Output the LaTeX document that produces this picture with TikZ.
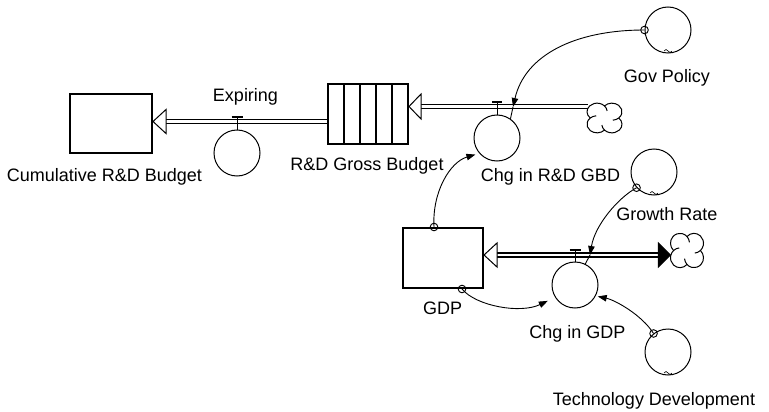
\documentclass[tikz,border=0pt]{standalone}
\usepackage{fontspec}
\setmainfont{Liberation Sans}
\usetikzlibrary{arrows.meta,calc}

\tikzset{
  stock/.style={draw, line width=2pt, rectangle, minimum width=80pt, minimum height=60pt, inner sep=0pt},
  conv/.style={draw, line width=1pt, circle, minimum size=46pt, inner sep=0pt},
  lbl/.style={anchor=base, inner sep=0pt, font=\fontsize{18}{20}\selectfont},
  pipe/.style={line width=1.5pt, double=white, double distance=2.5pt},
  openhead/.style={draw, line width=1pt, fill=white, line join=miter},
  solidhead/.style={draw, line width=1pt, fill=black, line join=miter},
  valvestem/.style={line width=1pt},
  valvebar/.style={line width=2pt},
  link/.style={line width=0.9pt, -{Triangle[length=9pt,width=6.5pt]}},
  plainlink/.style={line width=0.9pt},
  tail/.style={line width=0.9pt},
  graphmark/.style={line width=0.6pt},
  cloudline/.style={line width=1pt}
}

% four-lobed cloud drawn around a named anchor node (#2, #3: horizontal and vertical scale)
\newcommand{\cloudsym}[3]{%
  \begin{scope}[shift={(#1.center)}, x=#2pt, y=#3pt]
    \draw[cloudline, fill=white] (13.42,0)
      arc[start angle=-47.5, end angle=137.5, radius=9.5]
      arc[start angle=42.5, end angle=227.5, radius=9.5]
      arc[start angle=132.5, end angle=317.5, radius=9.5]
      arc[start angle=222.5, end angle=407.5, radius=9.5] -- cycle;
    \draw[cloudline] (0,13.42) arc[start angle=137.5, end angle=175, radius=9.5];
    \draw[cloudline] (-13.42,0) arc[start angle=227.5, end angle=265, radius=9.5];
    \draw[cloudline] (0,-13.42) arc[start angle=317.5, end angle=355, radius=9.5];
    \draw[cloudline] (13.42,0) arc[start angle=47.5, end angle=85, radius=9.5];
  \end{scope}}

% small tilde marking a graphical converter
\newcommand{\gmark}[1]{%
  \draw[graphmark] ([shift={(-4pt,2.5pt)}]#1.south) sin +(2pt,1.5pt) cos +(2pt,-1.5pt) sin +(2pt,-1.5pt) cos +(2pt,1.5pt);}

\begin{document}
\begin{tikzpicture}[x=1pt, y=-1pt]
\useasboundingbox (0,0) rectangle (769,412);

% ---- stocks ----
\node[stock, minimum width=82pt, minimum height=59pt] (cum) at (111,123.5) {};
\node[stock] (gross) at (368,114) {};
\foreach \xx in {344,360,376,392}
  \draw[line width=2pt] (\xx,84) -- (\xx,144);
\node[stock] (gdp) at (443,258) {};

% ---- converters ----
\node[conv] (expiring) at (237,153) {};
\node[conv] (chgrd) at (497,138) {};
\node[conv] (gov) at (668,30) {};
\node[conv] (growth) at (654,172) {};
\node[conv] (chggdp) at (575,285) {};
\node[conv] (tech) at (668,352) {};
\gmark{gov}
\gmark{growth}
\gmark{tech}

% ---- clouds ----
\node[inner sep=0pt, minimum width=35pt, minimum height=30pt] (src1) at (604.5,118) {};
\node[inner sep=0pt, minimum width=33pt, minimum height=34pt] (src2) at (687,250.5) {};

% ---- flow levels ----
\coordinate (pE) at (0,121.5);
\coordinate (pR) at (0,106.5);
\coordinate (pG) at (0,255);

% Expiring: R&D Gross Budget -> Cumulative R&D Budget
\coordinate (eTip) at (cum.east |- pE);
\draw[pipe] (gross.west |- pE) -- ([xshift=12pt]eTip);
\draw[openhead] (eTip) -- ++(13,-12) -- ++(0,24) -- cycle;
\draw[valvestem] (expiring.north) -- ++(0,-13) coordinate (vE);
\draw[valvebar] ([xshift=-5.5pt]vE) -- ([xshift=5.5pt]vE);

% Chg in R&D GBD: cloud -> R&D Gross Budget
\coordinate (rTip) at (gross.east |- pR);
\draw[pipe] ([xshift=1pt]src1.west |- pR) -- ([xshift=11pt]rTip);
\draw[openhead] (rTip) -- ++(12,-12.5) -- ++(0,25) -- cycle;
\draw[valvestem] (chgrd.north) -- ++(0,-12.5) coordinate (vR);
\draw[valvebar] ([xshift=-5pt]vR) -- ([xshift=5pt]vR);
\cloudsym{src1}{1.06}{-0.9}

% Chg in GDP: biflow between GDP and cloud
\coordinate (gTip) at (gdp.east |- pG);
\coordinate (cTip) at (src2.west |- pG);
\draw[pipe] ([xshift=12pt]gTip) -- ([xshift=-11pt]cTip);
\draw[openhead] (gTip) -- ++(13,-12) -- ++(0,24) -- cycle;
\draw[solidhead] (cTip) -- ++(-12,-12) -- ++(0,24) -- cycle;
\draw[valvestem] (chggdp.north) -- ++(0,-12) coordinate (vG);
\draw[valvebar] ([xshift=-5.5pt]vG) -- ([xshift=5.5pt]vG);
\cloudsym{src2}{1.0}{-1.04}

% ---- connectors ----
% Gov Policy -> Chg in R&D GBD
\coordinate (govo) at (gov.180);
\coordinate (ga) at (513,107);
\draw[tail] (govo) circle (3.8pt);
\draw[link] (govo) .. controls (575,30) and (525,55) .. (ga);
\draw[plainlink] (ga) -- (chgrd.55);

% GDP -> Chg in R&D GBD
\coordinate (gdpo1) at ([xshift=-9pt]gdp.north);
\draw[tail] (gdpo1) circle (3.8pt);
\draw[link, shorten >=4pt] (gdpo1) .. controls (432,192) and (450,162) .. (chgrd.221);

% Growth Rate -> Chg in GDP
\coordinate (gro) at (growth.222);
\coordinate (gb) at (590,255);
\draw[tail] (gro) circle (3.8pt);
\draw[link] (gro) .. controls (618,198) and (595,225) .. (gb);
\draw[plainlink] (gb) -- (chggdp.64);

% GDP -> Chg in GDP
\coordinate (gdpo2) at ([xshift=19pt]gdp.south);
\draw[tail] (gdpo2) circle (3.8pt);
\draw[link, shorten >=8pt] (gdpo2) .. controls (476,306) and (520,314) .. (chggdp.212);

% Technology Development -> Chg in GDP
\coordinate (teo) at (tech.128);
\draw[tail] (teo) circle (3.8pt);
\draw[link, shorten >=2pt] (teo) .. controls (642,315) and (615,300) .. (chggdp.-28);

% ---- labels ----
\node[lbl] (cumlbl) at (104.5,181) {Cumulative R\&D Budget};
\node[lbl] (explbl) at (245.5,101.5) {Expiring};
\node[lbl] (grosslbl) at (367,170) {R\&D Gross Budget};
\node[lbl] (chgrdlbl) at (550.5,181.5) {Chg in R\&D GBD};
\node[lbl] (govlbl) at (667,83) {Gov Policy};
\node[lbl] (growthlbl) at (667,220.5) {Growth Rate};
\node[lbl] (gdplbl) at (442.5,314) {GDP};
\node[lbl] (chggdplbl) at (577.5,338) {Chg in GDP};
\node[lbl] (techlbl) at (654,405.5) {Technology Development};
\end{tikzpicture}
\end{document}
